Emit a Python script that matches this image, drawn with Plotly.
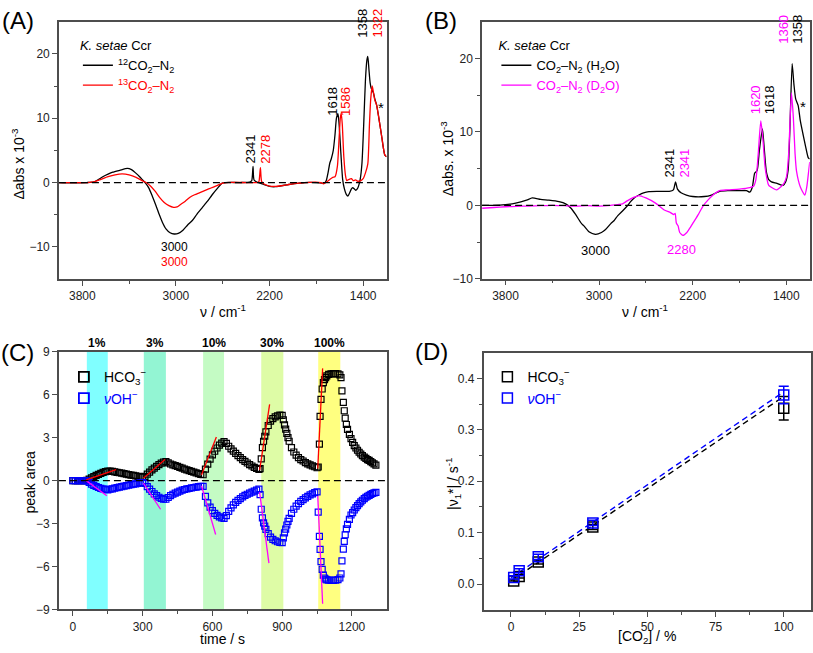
import plotly.graph_objects as go

# ---------------- Panel A data (wavenumber, Δabs x 1e-3) ----------------
a_wn_12 = [4000, 3900, 3760, 3700, 3660, 3625, 3580, 3540, 3480, 3415, 3380, 3345, 3310, 3285,
           3260, 3230, 3200, 3170, 3140, 3115, 3085, 3050, 3015, 2980, 2940, 2900, 2860, 2820,
           2775, 2730, 2690, 2640, 2605, 2580, 2450, 2370, 2352, 2341, 2332, 2300, 2250, 2200,
           2150, 2100, 2050, 2000, 1950, 1900, 1800, 1730, 1715, 1700, 1685, 1672, 1655, 1640,
           1628, 1615, 1605, 1590, 1575, 1560, 1545, 1530, 1515, 1500, 1490, 1475, 1464, 1450,
           1440, 1425, 1410, 1395, 1380, 1368, 1360, 1350, 1340, 1330, 1313, 1300, 1284, 1270,
           1256, 1240, 1228, 1215, 1200]
a_ab_12 = [0.0, -0.05, 0.0, 0.1, 0.5, 0.9, 1.3, 1.6, 1.9, 2.2, 2.0, 1.5, 0.9, 0.4,
           -0.1, -0.9, -2.2, -3.6, -5.1, -6.2, -7.2, -7.8, -8.0, -7.9, -7.4, -6.6, -5.9, -4.9,
           -3.9, -2.9, -1.9, -0.8, -0.1, 0.0, 0.0, 0.05, 0.3, 2.5, 0.4, 0.0, -0.3, -0.6,
           -0.65, -0.5, -0.35, -0.2, -0.1, 0.0, 0.0, -0.1, 0.3, 1.5, 3.0, 3.7, 5.0, 7.5,
           10.0, 10.7, 9.0, 4.5, 0.5, -1.0, -1.8, -2.1, -1.6, -1.0, -0.8, -1.0, -1.2, -1.0,
           -0.6, 0.5, 3.0, 9.0, 16.0, 19.0, 19.6, 17.5, 15.5, 14.6, 14.0, 13.0, 12.0, 10.5,
           8.9, 7.0, 5.5, 4.3, 4.0]
a_wn_13 = [4000, 3760, 3700, 3640, 3580, 3520, 3460, 3400, 3340, 3290, 3255, 3220, 3180, 3140,
           3100, 3060, 3020, 2990, 2960, 2920, 2880, 2840, 2800, 2760, 2720, 2680, 2640, 2600,
           2570, 2400, 2300, 2290, 2278, 2268, 2250, 2200, 2150, 2100, 2050, 2000, 1900, 1760,
           1740, 1720, 1690, 1660, 1640, 1620, 1605, 1595, 1587, 1578, 1565, 1550, 1540, 1520,
           1500, 1485, 1465, 1445, 1420, 1400, 1380, 1360, 1346, 1335, 1322, 1310, 1300, 1284,
           1270, 1256, 1240, 1228, 1215, 1200]
a_ab_13 = [0.0, 0.0, 0.1, 0.5, 0.9, 1.2, 1.35, 1.2, 0.8, 0.3, 0.0, -0.5, -1.3, -2.3,
           -3.1, -3.6, -3.85, -3.8, -3.4, -2.9, -2.3, -1.9, -1.6, -1.3, -1.0, -0.7, -0.4, -0.1,
           0.0, 0.0, 0.0, 0.2, 2.3, 0.2, -0.2, -0.55, -0.6, -0.5, -0.35, -0.2, 0.0, 0.0,
           -0.2, 0.0, 0.4, 0.8, 0.9, 2.5, 7.0, 10.0, 10.75, 9.0, 4.0, 1.0, 0.3, 0.5,
           0.6, 0.3, 0.4, 0.2, 0.3, 0.6, 1.5, 2.9, 9.0, 13.0, 15.0, 13.8, 12.8, 12.0,
           10.5, 8.9, 7.0, 5.5, 4.3, 4.0]

# ---------------- Panel B data ----------------
b_wn_h2o = [4000, 3912, 3800, 3713, 3620, 3571, 3500, 3429, 3343, 3286, 3240, 3201, 3150, 3130,
            3087, 3030, 2980, 2945, 2900, 2873, 2840, 2802, 2760, 2731, 2700, 2660, 2620, 2574,
            2500, 2400, 2365, 2347, 2330, 2300, 2254, 2200, 2100, 2040, 2000, 1969, 1900, 1800,
            1740, 1712, 1690, 1670, 1650, 1630, 1604, 1590, 1570, 1550, 1527, 1480, 1428, 1405,
            1385, 1370, 1350, 1335, 1320, 1299, 1280, 1256, 1235, 1213, 1200]
b_ab_h2o = [0.0, 0.0, 0.1, 0.3, 0.7, 1.0, 0.8, 0.7, 0.5, 0.2, -0.4, -1.25, -2.5, -2.8,
            -3.6, -3.95, -3.7, -3.3, -2.5, -2.1, -1.4, -0.8, -0.1, 0.5, 1.0, 1.4, 1.7, 1.87,
            1.9, 1.9, 2.1, 3.2, 2.2, 1.7, 1.4, 1.2, 1.2, 1.4, 1.7, 1.9, 2.0, 2.0,
            2.0, 1.8, 2.5, 4.4, 4.7, 7.5, 10.4, 8.0, 4.5, 3.5, 3.2, 3.0, 2.7, 3.2,
            4.7, 10.0, 19.3, 16.5, 14.5, 13.6, 11.5, 9.6, 8.0, 6.5, 6.3]
b_wn_d2o = [4000, 3900, 3800, 3700, 3600, 3500, 3400, 3300, 3200, 3100, 3000, 2900, 2800, 2760,
            2700, 2660, 2600, 2518, 2447, 2390, 2361, 2350, 2340, 2325, 2311, 2283, 2250, 2220,
            2197, 2150, 2112, 2070, 2026, 1969, 1900, 1800, 1712, 1680, 1660, 1640, 1618, 1600,
            1580, 1550, 1500, 1484, 1441, 1420, 1398, 1380, 1356, 1340, 1325, 1313, 1280, 1242,
            1225, 1210, 1200]
b_ab_d2o = [-0.4, -0.3, -0.2, -0.15, -0.1, -0.05, 0.0, -0.05, -0.1, -0.05, -0.1, 0.0, 0.2, 0.6,
            1.1, 1.33, 1.0, 0.3, -0.6, -1.0, -1.25, -1.1, -2.4, -2.8, -3.7, -4.1, -3.7, -3.0,
            -2.4, -1.2, -0.1, 0.7, 1.4, 2.0, 2.1, 2.2, 2.4, 2.6, 3.5, 7.0, 11.5, 9.0,
            5.0, 2.7, 2.2, 2.1, 2.6, 3.0, 3.9, 7.0, 15.3, 12.0, 7.0, 4.7, 2.5, 1.4,
            2.5, 4.5, 5.9]

# ---------------- Panel C data (time / s, peak area) ----------------
c_time = [0, 10, 20, 30, 40, 50, 60, 70, 80, 90, 100, 110, 120, 130, 140, 150,
          160, 170, 180, 190, 200, 210, 220, 230, 240, 250, 260, 270, 280, 290, 300,
          310, 320, 330, 340, 350, 360, 370, 380, 390, 400,
          410, 420, 430, 440, 450, 460, 470, 480, 490, 500, 510, 520, 530, 540, 550, 560,
          570, 580, 590, 600, 610, 620, 630, 640, 650,
          660, 670, 680, 690, 700, 710, 720, 730, 740, 750, 760, 770, 780, 790, 800,
          805, 810, 815, 820, 825, 830, 840, 850, 860, 870, 880, 890, 900,
          905, 910, 915, 920, 925, 930, 940, 950, 960, 970, 980, 990, 1000, 1010, 1020,
          1030, 1040, 1050,
          1055, 1060, 1063, 1067, 1072, 1077, 1082, 1087, 1092, 1100, 1110, 1120, 1130, 1140, 1148,
          1153, 1157, 1163, 1167, 1171, 1176, 1181, 1189, 1196, 1203, 1210, 1217, 1224, 1231,
          1238, 1245, 1253, 1260, 1267, 1274, 1281, 1288, 1295, 1303]
c_hco3 = [0, 0, 0, 0, 0, 0, 0.02, 0.1, 0.19, 0.28, 0.36, 0.44, 0.51, 0.57, 0.63, 0.67,
          0.66, 0.64, 0.61, 0.58, 0.55, 0.52, 0.49, 0.46, 0.42, 0.39, 0.36, 0.33, 0.3, 0.27, 0.24,
          0.3, 0.45, 0.6, 0.75, 0.88, 1.0, 1.12, 1.22, 1.3, 1.33,
          1.24, 1.16, 1.1, 1.05, 1.0, 0.93, 0.87, 0.81, 0.75, 0.7, 0.64, 0.59, 0.54, 0.49, 0.44, 0.41,
          0.8, 1.15, 1.5, 1.8, 2.05, 2.28, 2.48, 2.62, 2.72,
          2.6, 2.4, 2.22, 2.06, 1.9, 1.75, 1.6, 1.47, 1.35, 1.23, 1.12, 1.02, 0.93, 0.85, 0.78,
          0.84, 1.52, 2.3, 2.75, 3.1, 3.4, 3.85, 4.15, 4.33, 4.45, 4.53, 4.57, 4.56,
          4.25, 3.9, 3.6, 3.3, 3.0, 2.75, 2.3, 2.0, 1.78, 1.6, 1.47, 1.37, 1.26, 1.17, 1.1,
          1.03, 0.97, 0.9,
          0.95, 2.55, 4.49, 5.67, 6.4, 6.85, 7.05, 7.2, 7.32, 7.42, 7.46, 7.47, 7.47, 7.45, 7.38,
          7.2, 6.27, 5.47, 4.88, 4.37, 3.92, 3.58, 3.23, 2.94, 2.67, 2.45, 2.28, 2.12, 1.98,
          1.86, 1.74, 1.64, 1.55, 1.47, 1.41, 1.33, 1.25, 1.17, 1.08]
c_oh = [0, 0, 0, 0, 0, 0, -0.02, -0.12, -0.24, -0.33, -0.41, -0.48, -0.54, -0.58, -0.62, -0.64,
        -0.6, -0.57, -0.53, -0.49, -0.45, -0.42, -0.39, -0.35, -0.31, -0.28, -0.25, -0.22, -0.19, -0.16, -0.13,
        -0.2, -0.42, -0.6, -0.76, -0.92, -1.05, -1.16, -1.24, -1.29, -1.3,
        -1.18, -1.05, -0.95, -0.87, -0.8, -0.73, -0.67, -0.62, -0.58, -0.55, -0.51, -0.48, -0.45, -0.42, -0.4, -0.4,
        -1.1, -1.55, -1.85, -2.1, -2.28, -2.42, -2.53, -2.6, -2.64,
        -2.45, -2.15, -1.9, -1.7, -1.52, -1.38, -1.25, -1.13, -1.03, -0.95, -0.87, -0.8, -0.73, -0.67, -0.6,
        -0.98, -2.0, -2.6, -2.95, -3.18, -3.4, -3.7, -3.95, -4.1, -4.2, -4.27, -4.32, -4.33,
        -4.0, -3.65, -3.38, -3.1, -2.85, -2.63, -2.28, -2.0, -1.78, -1.6, -1.45, -1.32, -1.2, -1.1, -1.0,
        -0.92, -0.84, -0.78,
        -2.2, -3.9, -4.8, -5.65, -6.2, -6.6, -6.8, -6.88, -6.93, -6.95, -6.97, -6.97, -6.95, -6.92, -6.8,
        -6.51, -5.6, -4.78, -4.24, -3.78, -3.37, -3.05, -2.7, -2.4, -2.23, -2.05, -1.89, -1.74, -1.6,
        -1.48, -1.37, -1.25, -1.16, -1.09, -1.03, -0.96, -0.9, -0.85, -0.82]

# CO2 pulses (start, end, label)
c_pulse_start = [60, 305, 560, 810, 1055]
c_pulse_end = [150, 400, 650, 905, 1150]
c_pulse_label = ["1%", "3%", "10%", "30%", "100%"]
c_pulse_color = ["#80FFFF", "#93F5D3", "#C4FBC4", "#DEFCA6", "#FFFF80"]

# initial-slope fits (t0, t1, y0, y1)
c_fit_t0 = [57, 303, 553, 803, 1053]
c_fit_hco3_t1 = [186, 396, 617, 846, 1074]
c_fit_hco3_y0 = [0.05, 0.16, 0.39, 0.73, 0.85]
c_fit_hco3_y1 = [0.77, 1.48, 3.05, 5.33, 7.84]
c_fit_oh_t1 = [146, 377, 614, 843, 1074]
c_fit_oh_y0 = [0.0, -0.18, -0.36, -0.8, -1.08]
c_fit_oh_y1 = [-1.05, -2.0, -3.76, -5.76, -8.6]

# ---------------- Panel D data ----------------
d_co2 = [1, 3, 10, 30, 100]
d_hco3 = [0.006, 0.015, 0.043, 0.111, 0.342]
d_hco3_err = [0.002, 0.003, 0.004, 0.005, 0.023]
d_oh = [0.013, 0.026, 0.053, 0.119, 0.368]
d_oh_err = [0.003, 0.004, 0.005, 0.005, 0.017]
d_fit_x = [0, 100]
d_fit_hco3 = [0.0065, 0.365]
d_fit_oh = [0.012, 0.374]

W, H = 813, 653
FONT = "Arial, Liberation Sans, sans-serif"


def px(x):
    return x / W


def py(y):
    return 1 - y / H


fig = go.Figure()

# ---- Panel A traces
fig.add_trace(go.Scatter(x=a_wn_12, y=a_ab_12, mode="lines", line=dict(color="black", width=1.3, shape="spline", smoothing=0.6),
                         name="<sup>12</sup>CO<sub>2</sub>–N<sub>2</sub>", xaxis="x", yaxis="y", legend="legend"))
fig.add_trace(go.Scatter(x=a_wn_13, y=a_ab_13, mode="lines", line=dict(color="#FF0000", width=1.3, shape="spline", smoothing=0.6),
                         name='<span style="color:#FF0000"><sup>13</sup>CO<sub>2</sub>–N<sub>2</sub></span>', xaxis="x", yaxis="y", legend="legend"))
# ---- Panel B traces
fig.add_trace(go.Scatter(x=b_wn_h2o, y=b_ab_h2o, mode="lines", line=dict(color="black", width=1.3, shape="spline", smoothing=0.6),
                         name="CO<sub>2</sub>–N<sub>2</sub> (H<sub>2</sub>O)", xaxis="x2", yaxis="y2", legend="legend2"))
fig.add_trace(go.Scatter(x=b_wn_d2o, y=b_ab_d2o, mode="lines", line=dict(color="#FF00FF", width=1.3, shape="spline", smoothing=0.6),
                         name='<span style="color:#FF00FF">CO<sub>2</sub>–N<sub>2</sub> (D<sub>2</sub>O)</span>', xaxis="x2", yaxis="y2", legend="legend2"))

# ---- Panel C traces
fig.add_trace(go.Scatter(x=c_time, y=c_hco3, mode="markers", showlegend=False,
                         marker=dict(symbol="square-open", size=6, color="black", line=dict(width=1.2)),
                         xaxis="x3", yaxis="y3"))
fig.add_trace(go.Scatter(x=c_time, y=c_oh, mode="markers", showlegend=False,
                         marker=dict(symbol="square-open", size=6, color="#0000FF", line=dict(width=1.2)),
                         xaxis="x3", yaxis="y3"))
for i in range(len(c_fit_t0)):
    fig.add_trace(go.Scatter(x=[c_fit_t0[i], c_fit_hco3_t1[i]], y=[c_fit_hco3_y0[i], c_fit_hco3_y1[i]],
                             mode="lines", line=dict(color="#FF0000", width=1.3), showlegend=False,
                             xaxis="x3", yaxis="y3"))
    fig.add_trace(go.Scatter(x=[c_fit_t0[i], c_fit_oh_t1[i]], y=[c_fit_oh_y0[i], c_fit_oh_y1[i]],
                             mode="lines", line=dict(color="#FF00FF", width=1.3), showlegend=False,
                             xaxis="x3", yaxis="y3"))
fig.add_trace(go.Scatter(x=[None], y=[None], mode="markers", name="HCO<sub>3</sub><sup>−</sup>",
                         marker=dict(symbol="square-open", size=10, color="black", line=dict(width=1.8)),
                         xaxis="x3", yaxis="y3", legend="legend3"))
fig.add_trace(go.Scatter(x=[None], y=[None], mode="markers",
                         name='<span style="color:#0000FF"><i>ν</i>OH<sup>−</sup></span>',
                         marker=dict(symbol="square-open", size=10, color="#0000FF", line=dict(width=1.8)),
                         xaxis="x3", yaxis="y3", legend="legend3"))

# ---- Panel D traces
fig.add_trace(go.Scatter(x=d_fit_x, y=d_fit_hco3, mode="lines", showlegend=False,
                         line=dict(color="black", width=1.4, dash="6px,4px"), xaxis="x4", yaxis="y4"))
fig.add_trace(go.Scatter(x=d_fit_x, y=d_fit_oh, mode="lines", showlegend=False,
                         line=dict(color="#0000FF", width=1.4, dash="6px,4px"), xaxis="x4", yaxis="y4"))
fig.add_trace(go.Scatter(x=d_co2, y=d_hco3, mode="markers", name="HCO<sub>3</sub><sup>−</sup>",
                         marker=dict(symbol="square-open", size=10, color="black", line=dict(width=1.5)),
                         error_y=dict(type="data", array=d_hco3_err, color="black", thickness=1.5, width=5),
                         xaxis="x4", yaxis="y4", legend="legend4"))
fig.add_trace(go.Scatter(x=d_co2, y=d_oh, mode="markers",
                         name='<span style="color:#0000FF"><i>ν</i>OH<sup>−</sup></span>',
                         marker=dict(symbol="square-open", size=10, color="#0000FF", line=dict(width=1.5)),
                         error_y=dict(type="data", array=d_oh_err, color="#0000FF", thickness=1.5, width=5),
                         xaxis="x4", yaxis="y4", legend="legend4"))

axis_common = dict(showline=True, linecolor="#4d4d4d", linewidth=1.5, mirror=True, ticks="outside",
                   ticklen=5, tickwidth=1.2, tickcolor="#4d4d4d", showgrid=False, zeroline=False,
                   tickfont=dict(family=FONT, size=12, color="#222"))

fig.update_layout(
    width=W, height=H, margin=dict(l=0, r=0, t=0, b=0),
    paper_bgcolor="white", plot_bgcolor="white",
    font=dict(family=FONT, size=12, color="black"),
    xaxis=dict(domain=[px(59), px(387)], anchor="y", range=[4000, 1200], tickvals=[3800, 3000, 2200, 1400],
               minor=dict(tickvals=[3400, 2600, 1800], ticklen=3, ticks="outside", tickcolor="#4d4d4d"), **axis_common),
    yaxis=dict(domain=[py(278), py(15)], anchor="x", range=[-15, 25], tickvals=[-10, 0, 10, 20],
               minor=dict(tickvals=[-5, 5, 15], ticklen=3, ticks="outside", tickcolor="#4d4d4d"), **axis_common),
    xaxis2=dict(domain=[px(482.7), px(810.7)], anchor="y2", range=[4000, 1200], tickvals=[3800, 3000, 2200, 1400],
                minor=dict(tickvals=[3400, 2600, 1800], ticklen=3, ticks="outside", tickcolor="#4d4d4d"), **axis_common),
    yaxis2=dict(domain=[py(277.7), py(15)], anchor="x2", range=[-10, 25], tickvals=[-10, 0, 10, 20],
                minor=dict(tickvals=[-5, 5, 15], ticklen=3, ticks="outside", tickcolor="#4d4d4d"), **axis_common),
    xaxis3=dict(domain=[px(59), px(387.3)], anchor="y3", range=[-60, 1350], tickvals=[0, 300, 600, 900, 1200],
                minor=dict(tickvals=[150, 450, 750, 1050], ticklen=3, ticks="outside", tickcolor="#4d4d4d"), **axis_common),
    yaxis3=dict(domain=[py(615.7), py(352.3)], anchor="x3", range=[-9, 9], tickvals=[-9, -6, -3, 0, 3, 6, 9],
                ticktext=["−9", "−6", "−3", "0", "3", "6", "9"], **axis_common),
    xaxis4=dict(domain=[px(484.3), 0.9988], anchor="y4", range=[-10, 110], tickvals=[0, 25, 50, 75, 100],
                minor=dict(tickvals=[12.5, 37.5, 62.5, 87.5], ticklen=3, ticks="outside", tickcolor="#4d4d4d"), **axis_common),
    yaxis4=dict(domain=[py(616), py(353.3)], anchor="x4", range=[-0.05, 0.45], tickvals=[0, 0.1, 0.2, 0.3, 0.4],
                tickformat=".1f",
                minor=dict(tickvals=[0.05, 0.15, 0.25, 0.35], ticklen=3, ticks="outside", tickcolor="#4d4d4d"), **axis_common),
    legend=dict(x=px(78), y=py(27), xanchor="left", yanchor="top", bgcolor="rgba(0,0,0,0)",
                title=dict(text="<i>K. setae</i> Ccr", font=dict(size=13)), font=dict(size=13), tracegroupgap=0),
    legend2=dict(x=px(497), y=py(27), xanchor="left", yanchor="top", bgcolor="rgba(0,0,0,0)",
                 title=dict(text="<i>K. setae</i> Ccr", font=dict(size=13)), font=dict(size=13), tracegroupgap=0),
    legend3=dict(x=px(64), y=py(362), xanchor="left", yanchor="top", bgcolor="rgba(0,0,0,0)",
                 font=dict(size=14), tracegroupgap=0),
    legend4=dict(x=px(488), y=py(362), xanchor="left", yanchor="top", bgcolor="rgba(0,0,0,0)",
                 font=dict(size=14), tracegroupgap=0),
)

shapes = []
# zero reference lines
for xr, yr in [("x domain", "y"), ("x2 domain", "y2"), ("x3 domain", "y3")]:
    shapes.append(dict(type="line", xref=xr, yref=yr, x0=0, x1=1, y0=0, y1=0,
                       line=dict(color="black", width=1.2, dash="7px,4px"), layer="above"))
# CO2 pulse bands
for s, e, c in zip(c_pulse_start, c_pulse_end, c_pulse_color):
    shapes.append(dict(type="rect", xref="x3", yref="y3 domain", x0=s, x1=e, y0=0, y1=1,
                       fillcolor=c, line=dict(width=0), layer="below"))
fig.update_layout(shapes=shapes)

ann = []


def label(text, x, y, xref, yref, color="black", size=12, angle=0, **kw):
    ann.append(dict(text=text, x=x, y=y, xref=xref, yref=yref, showarrow=False, textangle=angle,
                    font=dict(family=FONT, size=size, color=color), xanchor="center", yanchor="middle", **kw))


# panel letters
for t, x, y in [("(A)", 18, 14), ("(B)", 442, 14), ("(C)", 18, 353), ("(D)", 432, 352)]:
    label(t, px(x), py(y), "paper", "paper", size=24)

# axis titles
label("Δabs x 10<sup>-3</sup>", px(18), py(160), "paper", "paper", size=14, angle=-90)
label("ν / cm<sup>-1</sup>", px(223), py(311), "paper", "paper", size=14)
label("Δabs. x 10<sup>-3</sup>", px(447), py(155), "paper", "paper", size=14, angle=-90)
label("ν / cm<sup>-1</sup>", px(646), py(311), "paper", "paper", size=14)
label("peak area", px(30), py(486), "paper", "paper", size=14, angle=-90)
label("time / s", px(223), py(646), "paper", "paper", size=14)
label("|ν<sub>1</sub>*| / s<sup>-1</sup>", px(453), py(487), "paper", "paper", size=14, angle=-90)
label("[CO<sub>2</sub>] / %", px(648), py(644), "paper", "paper", size=14)

# panel A peak labels
label("3000", 3016, -10.0, "x", "y", size=12)
label("3000", 3016, -12.3, "x", "y", color="#FF0000", size=12)
label("2341", 2364, 5.2, "x", "y", size=13, angle=-90)
label("2278", 2242, 5.2, "x", "y", color="#FF0000", size=13, angle=-90)
label("1618", 1663, 12.6, "x", "y", size=13, angle=-90)
label("1586", 1550, 12.6, "x", "y", color="#FF0000", size=13, angle=-90)
label("1358", 1404, 24.8, "x", "y", size=13, angle=-90)
label("1322", 1276, 24.8, "x", "y", color="#FF0000", size=13, angle=-90)
label("*", 1251, 11.6, "x", "y", size=15)

# panel B peak labels
label("3000", 3027, -6.1, "x2", "y2", size=13)
label("2280", 2293, -6.0, "x2", "y2", color="#FF00FF", size=13)
label("2341", 2401, 5.7, "x2", "y2", size=13, angle=-90)
label("2341", 2273, 5.7, "x2", "y2", color="#FF00FF", size=13, angle=-90)
label("1620", 1667, 14.3, "x2", "y2", color="#FF00FF", size=13, angle=-90)
label("1618", 1547, 14.3, "x2", "y2", size=13, angle=-90)
label("1360", 1419, 23.9, "x2", "y2", color="#FF00FF", size=13, angle=-90)
label("1358", 1300, 23.9, "x2", "y2", size=13, angle=-90)
label("*", 1257, 13.4, "x2", "y2", size=15)

# panel C pulse labels
for s, e, t in zip(c_pulse_start, c_pulse_end, c_pulse_label):
    label("<b>" + t + "</b>", (s + e) / 2, py(343), "x3", "paper", size=12)

fig.update_layout(annotations=ann)
fig.write_html("out.html", config={"displayModeBar": False},
               post_script="document.body.style.margin='0';document.body.style.overflow='hidden';")
